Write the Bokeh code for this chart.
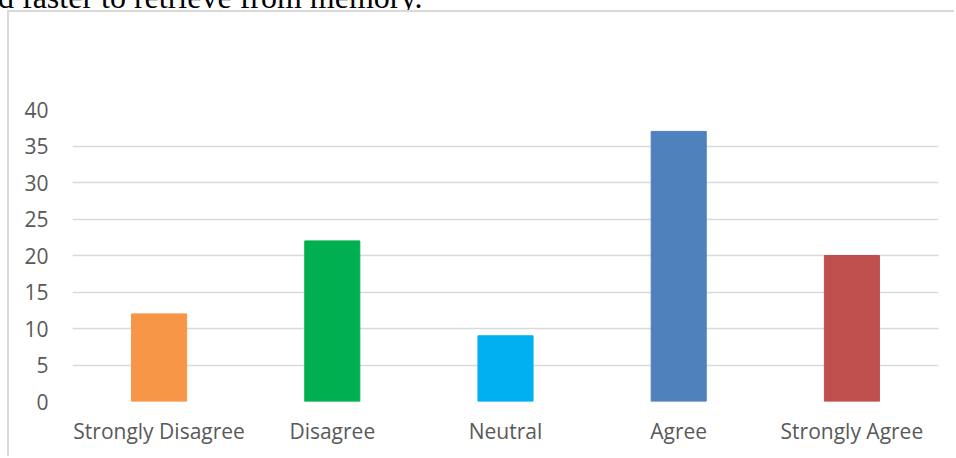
from bokeh.plotting import figure
from bokeh.models import FactorRange, Range1d, ColumnDataSource, Div
from bokeh.layouts import column
from bokeh.embed import file_html
from bokeh.resources import INLINE

# Survey responses per answer option
categories = ["Strongly Disagree", "Disagree", "Neutral", "Agree", "Strongly Agree"]
counts = [12, 22, 9, 37, 20]
bar_colors = ["#F79646", "#00B050", "#00B0F0", "#4F81BD", "#C0504D"]
y_ticks = [0, 5, 10, 15, 20, 25, 30, 35, 40]
caption = "d faster to retrieve from memory."

PAGE_W, PAGE_H = 956, 458
BOX_X, BOX_Y = 9, 12          # where the chart box content starts on the page
W, H = PAGE_W - BOX_X, PAGE_H - BOX_Y
F_LEFT, F_RIGHT, F_TOP, F_BOTTOM = 72 - BOX_X, 938 - BOX_X, 109 - BOX_Y, 401 - BOX_Y

# Running text of the document, only its lower part shows above the chart box
header = Div(
    text=(
        '<span style="position:absolute;left:-2px;top:-19px;display:block;'
        'font-family:\'Liberation Serif\',\'Times New Roman\',serif;'
        'font-size:32px;line-height:32px;color:#000;white-space:nowrap;">'
        + caption + '</span>'
    ),
    width=PAGE_W, height=BOX_Y - 2, margin=0,
    styles={"overflow": "hidden", "position": "relative"},
)

source = ColumnDataSource(dict(cat=categories, count=counts, color=bar_colors))

p = figure(
    x_range=FactorRange(*categories),
    y_range=Range1d(0, 40),
    width=W, height=H,
    output_backend="svg",
    toolbar_location=None,
    min_border_left=F_LEFT,
    min_border_right=W - F_RIGHT,
    min_border_top=F_TOP,
    min_border_bottom=H - F_BOTTOM,
    margin=(0, 0, 0, BOX_X - 2),
    styles={"border-left": "2px solid #D9D9D9", "border-top": "2px solid #D9D9D9"},
)
p.outline_line_color = None
p.background_fill_color = "white"
p.border_fill_color = "white"

p.vbar(x="cat", top="count", width=0.318, color="color", source=source)

label_font = "Open Sans"
label_color = "#595959"

p.xaxis.axis_line_color = None
p.xaxis.major_tick_line_color = None
p.xaxis.minor_tick_line_color = None
p.xaxis.major_label_text_font = label_font
p.xaxis.major_label_text_font_size = "21px"
p.xaxis.major_label_text_color = label_color
p.xaxis.major_label_standoff = 9

p.yaxis.ticker = y_ticks
p.yaxis.axis_line_color = None
p.yaxis.major_tick_line_color = None
p.yaxis.minor_tick_line_color = None
p.yaxis.major_label_text_font = label_font
p.yaxis.major_label_text_font_size = "21px"
p.yaxis.major_label_text_color = label_color
p.yaxis.major_label_standoff = 18

p.xgrid.grid_line_color = None
p.ygrid.grid_line_color = "#D9D9D9"
p.ygrid.grid_line_width = 1.4

page = column(header, p, spacing=0, margin=0)

open("out.html", "w").write(file_html(page, INLINE))
